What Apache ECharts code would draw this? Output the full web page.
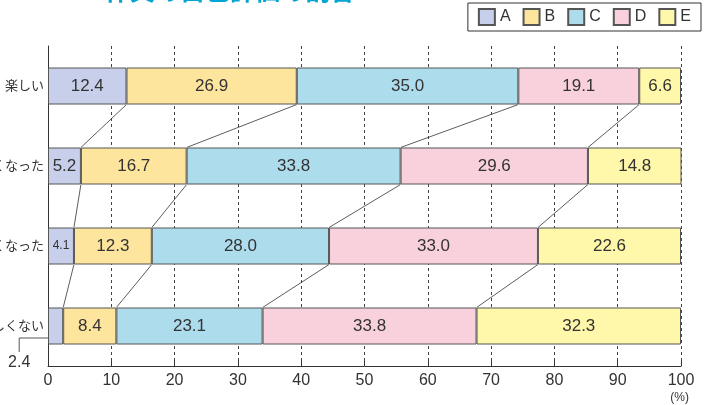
<!DOCTYPE html>
<html>
<head>
<meta charset="utf-8">
<script src="https://cdn.jsdelivr.net/npm/echarts@6/dist/echarts.min.js"></script>
<style>
html, body { margin: 0; padding: 0; background: #fff; }
#main { width: 709px; height: 405px; }
</style>
</head>
<body>
<div id="main"></div>
<script>
// rows (top to bottom)
var categories = ['楽しい', '楽しくなった', '少し楽しくなった', '楽しくない'];
var seriesNames = ['A', 'B', 'C', 'D', 'E'];
var valA = [12.4, 5.2, 4.1, 2.4];
var valB = [26.9, 16.7, 12.3, 8.4];
var valC = [35.0, 33.8, 28.0, 23.1];
var valD = [19.1, 29.6, 33.0, 33.8];
var valE = [6.6, 14.8, 22.6, 32.3];
var xTicks = [0, 10, 20, 30, 40, 50, 60, 70, 80, 90, 100];
var colors = ['#c8cfea', '#fee59e', '#addced', '#f9d1dc', '#fff7aa'];

var allVals = [valA, valB, valC, valD, valE];
var FONT = "'Liberation Sans', 'Noto Sans CJK JP', sans-serif";
var BAR_W = 37;

// connector lines between neighbouring rows at each cumulative boundary
var links = [];
for (var i = 0; i < categories.length - 1; i++) {
    var c1 = 0, c2 = 0;
    for (var k = 0; k < allVals.length - 1; k++) {
        c1 += allVals[k][i];
        c2 += allVals[k][i + 1];
        links.push([c1, i, c2, i + 1]);
    }
}

function barData(vals, s) {
    return vals.map(function (v, i) {
        var item = { value: v };
        if (s === 0 && i === 2) item.label = { fontSize: 12 };
        if (s === 0 && i === 3) item.label = { show: false };
        return item;
    });
}

var series = seriesNames.map(function (name, s) {
    return {
        name: name,
        type: 'bar',
        stack: 'all',
        barWidth: BAR_W,
        data: barData(allVals[s], s),
        itemStyle: { color: colors[s], borderColor: '#555', borderWidth: 1 },
        label: {
            show: true,
            position: 'inside',
            color: '#333',
            fontSize: 17,
            fontFamily: FONT,
            formatter: function (p) { return p.value.toFixed(1); }
        }
    };
});

series.push({
    type: 'custom',
    silent: true,
    data: links,
    encode: { x: [0, 2], y: [1, 3] },
    renderItem: function (params, api) {
        var p1 = api.coord([api.value(0), api.value(1)]);
        var p2 = api.coord([api.value(2), api.value(3)]);
        return {
            type: 'line',
            shape: { x1: p1[0], y1: p1[1] + BAR_W / 2, x2: p2[0], y2: p2[1] - BAR_W / 2 },
            style: { stroke: '#333', lineWidth: 0.8 }
        };
    }
});

var option = {
    animation: false,
    title: {
        text: '作文の自己評価の割合',
        left: 100,
        top: -24,
        textStyle: { color: '#00a5d4', fontSize: 25, fontWeight: 'bold', fontFamily: FONT }
    },
    legend: {
        data: seriesNames.map(function (n) { return { name: n, icon: 'rect' }; }),
        right: 8,
        top: 3,
        itemWidth: 16,
        itemHeight: 16,
        itemGap: 12,
        borderColor: '#333',
        borderWidth: 1,
        padding: [5, 10],
        textStyle: { color: '#333', fontSize: 16, fontFamily: FONT }
    },
    grid: { left: 48, right: 28, top: 46, bottom: 39, containLabel: false, outerBoundsMode: 'none' },
    xAxis: {
        type: 'value',
        min: 0,
        max: 100,
        interval: 10,
        name: '(%)',
        nameLocation: 'end',
        nameGap: 8,
        nameTextStyle: { color: '#333', fontSize: 12, fontFamily: FONT, align: 'right', verticalAlign: 'top', padding: [26, 0, 0, 0] },
        axisLine: { show: true, lineStyle: { color: '#333' } },
        axisTick: { show: true, inside: true, length: 5, lineStyle: { color: '#333' } },
        axisLabel: {
            color: '#333', fontSize: 16, fontFamily: FONT, margin: 7,
            formatter: function (v) { return xTicks.indexOf(v) >= 0 ? String(v) : ''; }
        },
        splitLine: { show: true, lineStyle: { color: '#444', type: [3, 3], width: 1 } }
    },
    yAxis: {
        type: 'category',
        inverse: true,
        data: categories,
        axisLine: { show: true, lineStyle: { color: '#333' } },
        axisTick: { show: false },
        axisLabel: { color: '#333', fontSize: 13, fontFamily: FONT, margin: 4 }
    },
    series: series
};

var chart = echarts.init(document.getElementById('main'));
chart.setOption(option);

// small value of the last row shown outside with a leader line
var last = categories.length - 1;
var pt = chart.convertToPixel({ gridIndex: 0 }, [valA[last], last]);
var lx = pt[0] - 44, ly = pt[1] + 12;
chart.setOption({
    graphic: [
        {
            type: 'polyline',
            shape: { points: [[pt[0] - 5, ly], [lx, ly], [lx, ly + 14]] },
            style: { stroke: '#555', lineWidth: 1, fill: null }
        },
        {
            type: 'text',
            x: lx,
            y: ly + 25,
            style: { text: valA[last].toFixed(1), fill: '#333', fontSize: 16, fontFamily: FONT, align: 'center', verticalAlign: 'middle' }
        }
    ]
});
</script>
</body>
</html>
